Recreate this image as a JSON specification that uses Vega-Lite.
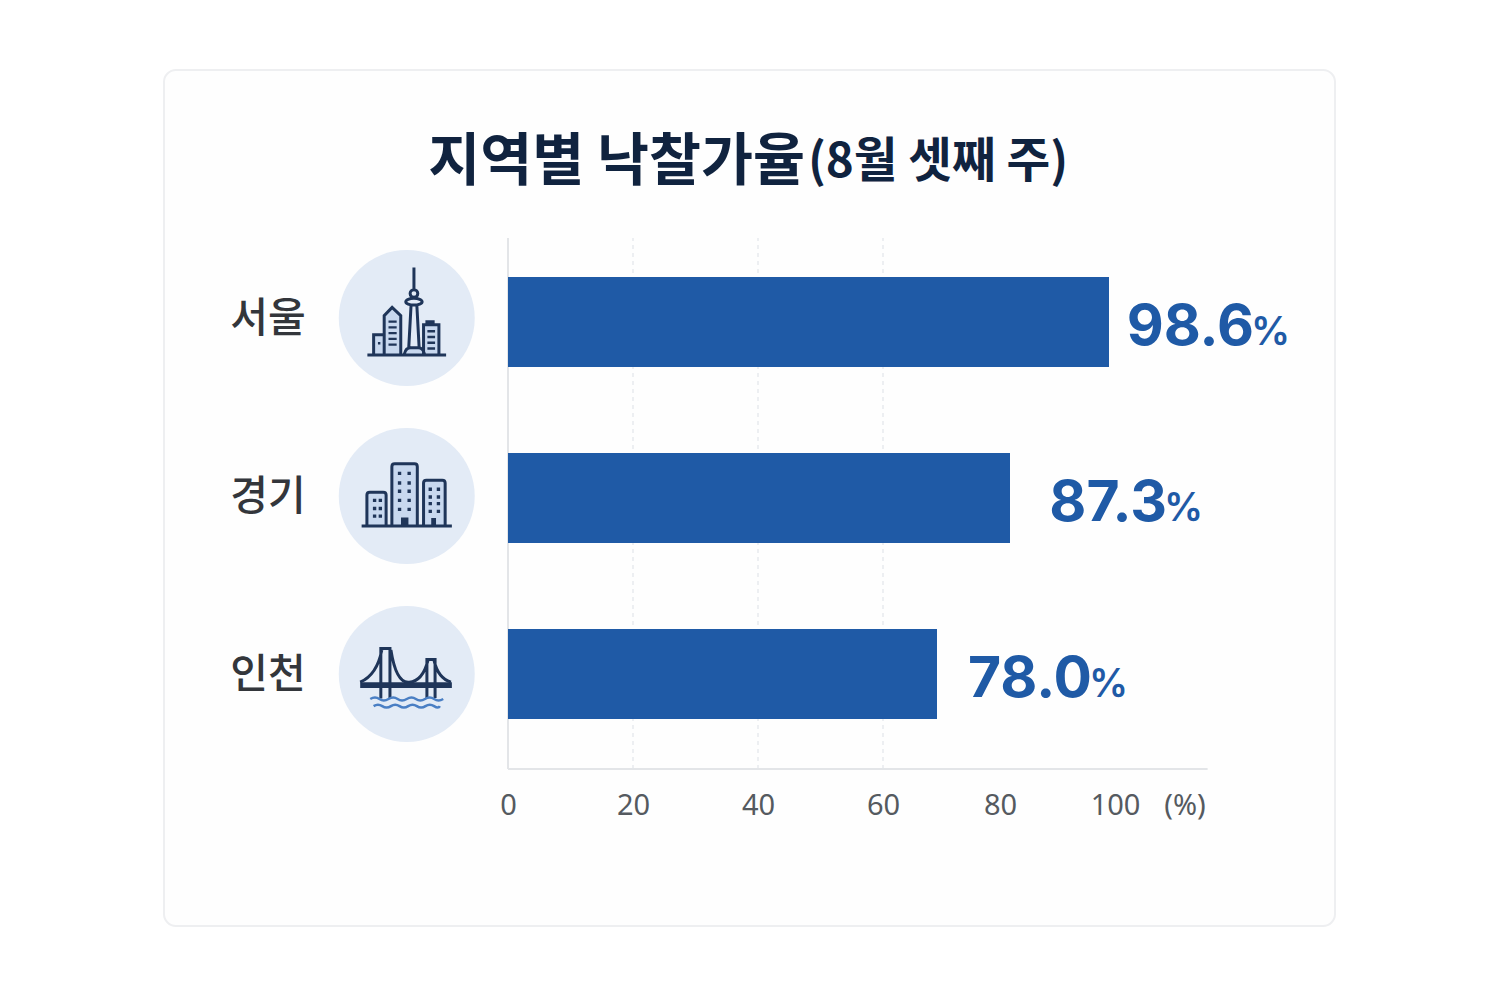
{
  "$schema": "https://vega.github.io/schema/vega-lite/v6.json",
  "width": 1171,
  "height": 856,
  "autosize": "none",
  "padding": {"left": 164, "top": 70, "right": 165, "bottom": 74},
  "background": "#ffffff",
  "view": {"fill": "#fefefe", "stroke": "#eeeff1", "strokeWidth": 2, "cornerRadius": 12},
  "datasets": {
    "rows": [
      {"region": "서울", "rate": 98.6},
      {"region": "경기", "rate": 87.3},
      {"region": "인천", "rate": 78.0}
    ],
    "gridTicks": [{"tick": 20}, {"tick": 40}, {"tick": 60}],
    "heading": [{"main": "지역별 낙찰가율", "note": "(8월 셋째 주)"}]
  },
  "layer": [
    {
      "layer": [
        {
          "data": {"name": "gridTicks"},
          "mark": {"type": "rule", "color": "#e8eaee", "strokeWidth": 1.5, "strokeDash": [4, 4]},
          "encoding": {
            "x": {
              "field": "tick",
              "type": "quantitative",
              "scale": {"domain": [-55.04, 0, 60, 80, 100, 138], "range": [0, 344, 719, 836, 951, 1171], "nice": false, "zero": false},
              "axis": {
                "values": [0, 20, 40, 60, 80, 100, 112],
                "labelExpr": "datum.value == 112 ? '(%)' : datum.label",
                "title": null,
                "domain": false,
                "ticks": false,
                "grid": false,
                "offset": -157,
                "labelPadding": 22,
                "labelFont": "Noto Sans",
                "labelFontSize": 29,
                "labelColor": "#555a60",
                "labelOverlap": false,
                "labelFlush": false
              }
            },
            "y": {"datum": 0, "type": "quantitative", "scale": {"domain": [0, 1], "range": [699, 168], "nice": false, "zero": false}, "axis": null},
            "y2": {"datum": 1}
          }
        },
        {
          "data": {"name": "heading"},
          "mark": {"type": "rule", "color": "#e3e5e8", "strokeWidth": 2},
          "encoding": {
            "x": {"datum": 0, "type": "quantitative"},
            "y": {"datum": 0, "type": "quantitative"},
            "y2": {"datum": 1}
          }
        },
        {
          "data": {"name": "heading"},
          "mark": {"type": "rule", "color": "#e3e5e8", "strokeWidth": 2},
          "encoding": {
            "x": {"datum": 0, "type": "quantitative"},
            "x2": {"datum": 116},
            "y": {"datum": 0, "type": "quantitative"}
          }
        }
      ]
    },
    {
      "data": {"name": "rows"},
      "resolve": {"scale": {"shape": "independent"}},
      "layer": [
        {
          "mark": {"type": "point", "shape": "circle", "filled": true, "size": 18496, "color": "#e3ebf6", "opacity": 1},
          "encoding": {
            "x": {
              "datum": -16.2,
              "type": "quantitative",
              "scale": {"domain": [-55.04, 0, 60, 80, 100, 138], "range": [0, 344, 719, 836, 951, 1171], "nice": false, "zero": false},
              "axis": null
            },
            "y": {
              "field": "region",
              "type": "nominal",
              "sort": null,
              "scale": {"type": "point", "padding": 0, "domain": ["제목", "서울", "경기", "인천"], "range": [70, 604]},
              "axis": null
            }
          }
        },
        {
          "mark": {"type": "point", "filled": true, "size": 9216, "color": "#c8d8ef", "opacity": 1},
          "encoding": {
            "x": {"datum": -16.2, "type": "quantitative"},
            "y": {"field": "region", "type": "nominal"},
            "shape": {
              "field": "region",
              "type": "nominal",
              "legend": null,
              "scale": {
                "domain": ["서울", "경기", "인천"],
                "range": [
                  "M-.69 .77V.35H-.47V.77Z M-.47 .77V-.05L-.305 -.22L-.125 -.05V.77Z M.35 .77V.14H.67V.77Z M-.05 .75Q-.02 .62 .08 .62H.24Q.34 .62 .37 .75Z",
                  "M-.83 .625V-.08H-.43V.625Z M-.31 .625V-.67H.22V.625Z M.35 .625V-.33H.8V.625Z",
                  "M0 0"
                ]
              }
            }
          }
        },
        {
          "mark": {"type": "point", "filled": false, "size": 9216, "color": "#1f3559", "strokeWidth": 3, "opacity": 1},
          "encoding": {
            "x": {"datum": -16.2, "type": "quantitative"},
            "y": {"field": "region", "type": "nominal"},
            "shape": {
              "field": "region",
              "type": "nominal",
              "legend": null,
              "scale": {
                "domain": ["서울", "경기", "인천"],
                "range": [
                  "M-.82 .77H.82 M.15 -1.05V-.6 M.07 -.51a.08 .08 0 1 0 .16 0a.08 .08 0 1 0 -.16 0z M-.02 -.34a.17 .07 0 1 0 .34 0a.17 .07 0 1 0 -.34 0z M.09 -.27L.04 .65 M.21 -.27L.26 .65 M-.05 .75Q-.02 .62 .08 .62H.24Q.34 .62 .37 .75 M-.47 .77V-.05L-.305 -.22L-.125 -.05V.77 M-.69 .77V.35H-.47 M.35 .77V.14H.67V.77 M.42 .14V.08H.55V.14",
                  "M-.94 .625H.94 M-.83 .625V-.02Q-.83 -.08 -.77 -.08H-.49Q-.43 -.08 -.43 -.02V.625 M-.31 .625V-.61Q-.31 -.67 -.25 -.67H.16Q.22 -.67 .22 -.61V.625 M.35 .625V-.27Q.35 -.33 .41 -.33H.74Q.8 -.33 .8 -.27V.625",
                  "M-.97 .17Q-.62 .02 -.52 -.5 M-.33 -.5Q-.22 .2 .05 .17Q.33 .15 .44 -.28 M.57 -.28Q.65 .08 .92 .17 M-.54 .51V-.53H-.35V.51 M.42 .5V-.3H.59V.5"
                ]
              }
            }
          }
        },
        {
          "mark": {"type": "point", "filled": true, "size": 9216, "color": "#1f3559", "opacity": 1},
          "encoding": {
            "x": {"datum": -16.2, "type": "quantitative"},
            "y": {"field": "region", "type": "nominal"},
            "shape": {
              "field": "region",
              "type": "nominal",
              "legend": null,
              "scale": {
                "domain": ["서울", "경기", "인천"],
                "range": [
                  "M-.38 .05h.17v.05h-.17z M-.38 .17h.17v.05h-.17z M-.38 .29h.17v.05h-.17z M-.38 .41h.17v.05h-.17z M-.38 .53h.17v.05h-.17z M.43 .25h.16v.05h-.16z M.43 .37h.16v.05h-.16z M.43 .49h.16v.05h-.16z M.43 .61h.16v.05h-.16z M-.6 .5h.05v.05h-.05z",
                  "M-.705 .055h.07v.07h-.07z M-.585 .055h.07v.07h-.07z M-.705 .225h.07v.07h-.07z M-.585 .225h.07v.07h-.07z M-.705 .385h.07v.07h-.07z M-.585 .385h.07v.07h-.07z M-.185 -.505h.07v.07h-.07z M.015 -.505h.07v.07h-.07z M-.185 -.305h.07v.07h-.07z M.015 -.305h.07v.07h-.07z M-.185 -.135h.07v.07h-.07z M.015 -.135h.07v.07h-.07z M-.185 .055h.07v.07h-.07z M.015 .055h.07v.07h-.07z M-.185 .245h.07v.07h-.07z M.015 .245h.07v.07h-.07z M-.12 .45h.155v.175h-.155z M.455 -.175h.07v.07h-.07z M.625 -.175h.07v.07h-.07z M.455 -.015h.07v.07h-.07z M.625 -.015h.07v.07h-.07z M.455 .125h.07v.07h-.07z M.625 .125h.07v.07h-.07z M.455 .285h.07v.07h-.07z M.625 .285h.07v.07h-.07z M.51 .46h.1v.165h-.1z",
                  "M-.97 .17H.94V.29H-.97Z"
                ]
              }
            }
          }
        },
        {
          "transform": [{"filter": "datum.region == '인천'"}],
          "mark": {
            "type": "point",
            "filled": false,
            "size": 9216,
            "color": "#4a7fc4",
            "strokeWidth": 2.5,
            "opacity": 1,
            "shape": "M-.76 .52Q-.66 .46 -.57 .52T-.38 .52T-.19 .52T0 .52T.19 .52T.38 .52T.57 .52T.76 .52 M-.69 .67Q-.6 .61 -.51 .67T-.33 .67T-.15 .67T.03 .67T.21 .67T.39 .67T.57 .67T.69 .67"
          },
          "encoding": {
            "x": {"datum": -16.2, "type": "quantitative"},
            "y": {"field": "region", "type": "nominal"}
          }
        },
        {
          "mark": {"type": "text", "font": "Noto Sans CJK KR", "fontSize": 41, "fontWeight": 500, "color": "#33363b", "dy": 2},
          "encoding": {
            "x": {"datum": -38.4, "type": "quantitative"},
            "y": {"field": "region", "type": "nominal"},
            "text": {"field": "region"}
          }
        },
        {
          "data": {"name": "heading"},
          "mark": {"type": "text", "font": "Noto Sans CJK KR", "fontSize": 56.5, "fontWeight": 700, "color": "#10233f", "align": "right", "dy": 23},
          "encoding": {
            "x": {"datum": 47.5, "type": "quantitative"},
            "y": {"datum": "제목"},
            "text": {"field": "main"}
          }
        },
        {
          "data": {"name": "heading"},
          "mark": {"type": "text", "font": "Noto Sans CJK KR", "fontSize": 47.5, "fontWeight": 700, "color": "#10233f", "align": "left", "dx": 3, "dy": 23},
          "encoding": {
            "x": {"datum": 47.5, "type": "quantitative"},
            "y": {"datum": "제목"},
            "text": {"field": "note"}
          }
        }
      ]
    },
    {
      "data": {"name": "rows"},
      "mark": {"type": "bar", "color": "#1f5aa6", "size": 90},
      "encoding": {
        "x": {
          "field": "rate",
          "type": "quantitative",
          "scale": {"domain": [0, 78, 87.3, 98.6], "range": [344, 773, 846, 945], "nice": false, "zero": false},
          "axis": null
        },
        "y": {
          "field": "region",
          "type": "nominal",
          "sort": null,
          "scale": {"type": "point", "padding": 0, "domain": ["서울", "경기", "인천"], "range": [252, 604]},
          "axis": null
        }
      }
    },
    {
      "data": {"name": "rows"},
      "layer": [
        {
          "mark": {"type": "text", "font": "Inter", "fontSize": 57, "fontWeight": 700, "color": "#1f5aa6", "align": "right", "baseline": "alphabetic", "dy": 23},
          "encoding": {
            "x": {
              "field": "rate",
              "type": "quantitative",
              "scale": {"domain": [78, 87.3, 98.6], "range": [928, 1003, 1090], "nice": false, "zero": false},
              "axis": null
            },
            "y": {
              "field": "region",
              "type": "nominal",
              "sort": null,
              "scale": {"type": "point", "padding": 0, "domain": ["서울", "경기", "인천"], "range": [252, 604]},
              "axis": null
            },
            "text": {"field": "rate", "type": "quantitative", "format": ".1f"}
          }
        },
        {
          "mark": {"type": "text", "font": "Inter", "fontSize": 39, "fontWeight": 600, "color": "#1f5aa6", "align": "left", "baseline": "alphabetic", "dx": -3, "dy": 23, "text": "%"},
          "encoding": {
            "x": {"field": "rate", "type": "quantitative"},
            "y": {"field": "region", "type": "nominal"}
          }
        }
      ]
    }
  ],
  "resolve": {"scale": {"x": "independent", "y": "independent"}}
}
